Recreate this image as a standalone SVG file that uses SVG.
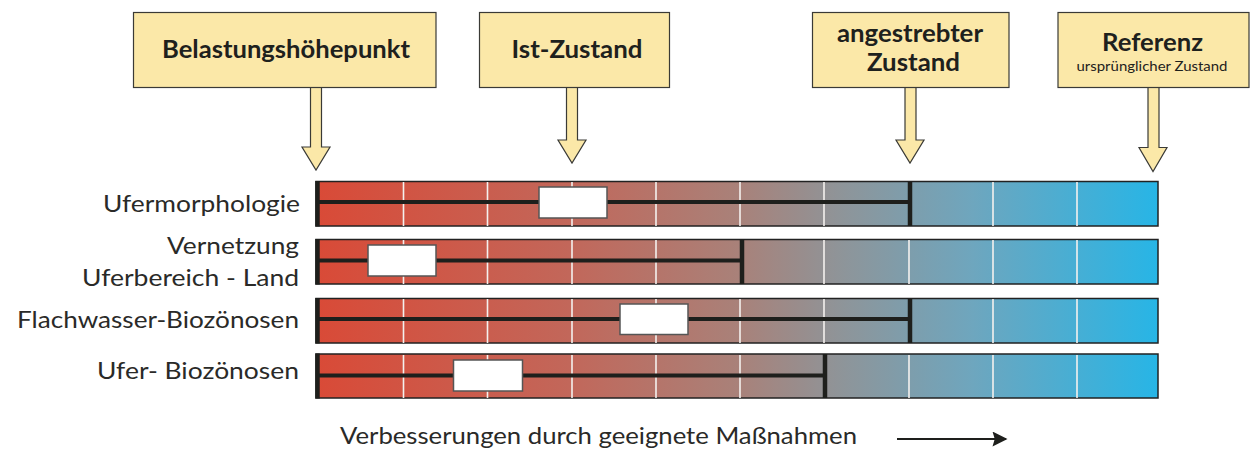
<svg xmlns="http://www.w3.org/2000/svg" width="1257" height="452" viewBox="0 0 1257 452">
<style>
.box{fill:#FBE8A8;stroke:#3a3a36;stroke-width:1.2}
.title{font-family:Lato,"Open Sans",sans-serif;font-weight:bold;font-size:24px;fill:#1e211d;text-anchor:middle}
.sub{font-family:Lato,"Open Sans",sans-serif;font-size:13px;fill:#1e211d;text-anchor:middle}
.lbl{font-family:Lato,"Open Sans",sans-serif;font-size:23px;fill:#2a2a28;text-anchor:end}
.bar{fill:url(#g);stroke:#222;stroke-width:1.5}
.div{stroke:#f4f0ee;stroke-width:1.6}
.mid{stroke:#1e1f1c;stroke-width:4}
.end{stroke:#1e1f1c;stroke-width:4.5}
.val{fill:#fff;stroke:#555;stroke-width:1.5}
</style>
<defs>
<linearGradient id="g" gradientUnits="userSpaceOnUse" x1="316" y1="0" x2="1158" y2="0">
<stop offset="0" stop-color="#D94A37"/>
<stop offset="0.3" stop-color="#C2675A"/>
<stop offset="0.5" stop-color="#A98179"/>
<stop offset="0.62" stop-color="#8F9498"/>
<stop offset="0.78" stop-color="#6EA6BE"/>
<stop offset="1" stop-color="#27B5E6"/>
</linearGradient>
<marker id="ah" viewBox="0 0 10 10" refX="9" refY="5" markerWidth="17" markerHeight="15" markerUnits="userSpaceOnUse" orient="auto"><path d="M0,0 L10,5 L0,10 L1.5,5 z" fill="#1e1f1c"/></marker>
</defs>

<g id="callout-belastung">
<polygon class="box" points="310.5,87 310.5,147 302,147 316,170 330,147 321.5,147 321.5,87"/>
<rect class="box" x="133.5" y="12.5" width="302.5" height="75"/>
<text class="title" x="286" y="58" textLength="248" lengthAdjust="spacingAndGlyphs">Belastungshöhepunkt</text>
</g>
<g id="callout-ist">
<polygon class="box" points="566.5,87 566.5,140 558,140 572,163 586,140 577.5,140 577.5,87"/>
<rect class="box" x="479.5" y="12.5" width="190" height="75"/>
<text class="title" x="577" y="58" textLength="131" lengthAdjust="spacingAndGlyphs">Ist-Zustand</text>
</g>
<g id="callout-angestrebt">
<polygon class="box" points="905,87 905,140 896,140 910,163 924,140 916,140 916,87"/>
<rect class="box" x="812.5" y="12.5" width="196.5" height="75"/>
<text class="title" x="910" y="42" textLength="146" lengthAdjust="spacingAndGlyphs">angestrebter</text>
<text class="title" x="913.5" y="71" textLength="93" lengthAdjust="spacingAndGlyphs">Zustand</text>
</g>
<g id="callout-referenz">
<polygon class="box" points="1148,87 1148,147.5 1139,147.5 1153,171.5 1167,147.5 1159,147.5 1159,87"/>
<rect class="box" x="1058" y="12.5" width="191" height="75"/>
<text class="title" x="1152.5" y="51" textLength="101" lengthAdjust="spacingAndGlyphs">Referenz</text>
<text class="sub" x="1152" y="71" textLength="151" lengthAdjust="spacingAndGlyphs">ursprünglicher Zustand</text>
</g>

<g id="row-ufermorphologie">
<text class="lbl" x="300" y="212" textLength="197" lengthAdjust="spacingAndGlyphs">Ufermorphologie</text>
<rect class="bar" x="316" y="181.5" width="842" height="44.5"/>
<path class="div" d="M403.5,182V226M487.5,182V226M572,182V226M656,182V226M740,182V226M824,182V226M993,182V226M1077,182V226"/>
<line class="mid" x1="318" y1="202" x2="910" y2="202"/>
<line class="end" x1="910" y1="181.5" x2="910" y2="226"/>
<line class="end" x1="317.5" y1="181" x2="317.5" y2="226.5"/>
<rect class="val" x="539" y="187" width="68" height="31"/>
</g>
<g id="row-vernetzung">
<text class="lbl" x="299" y="254" textLength="132" lengthAdjust="spacingAndGlyphs">Vernetzung</text>
<text class="lbl" x="299" y="286" textLength="217" lengthAdjust="spacingAndGlyphs">Uferbereich - Land</text>
<rect class="bar" x="316" y="239.5" width="842" height="44.5"/>
<path class="div" d="M403.5,240V284M487.5,240V284M572,240V284M656,240V284M824,240V284M909,240V284M993,240V284M1077,240V284"/>
<line class="mid" x1="318" y1="260.5" x2="742" y2="260.5"/>
<line class="end" x1="742" y1="239.5" x2="742" y2="284"/>
<line class="end" x1="317.5" y1="239" x2="317.5" y2="284.5"/>
<rect class="val" x="368" y="245" width="68" height="31"/>
</g>
<g id="row-flachwasser">
<text class="lbl" x="299" y="328" textLength="282" lengthAdjust="spacingAndGlyphs">Flachwasser-Biozönosen</text>
<rect class="bar" x="316" y="298.5" width="842" height="44.5"/>
<path class="div" d="M403.5,299V343M487.5,299V343M572,299V343M656,299V343M740,299V343M824,299V343M993,299V343M1077,299V343"/>
<line class="mid" x1="318" y1="319" x2="910" y2="319"/>
<line class="end" x1="910" y1="298.5" x2="910" y2="343"/>
<line class="end" x1="317.5" y1="298" x2="317.5" y2="343.5"/>
<rect class="val" x="620" y="304" width="68" height="30.5"/>
</g>
<g id="row-ufer-biozoenosen">
<text class="lbl" x="299" y="379" textLength="202" lengthAdjust="spacingAndGlyphs">Ufer- Biozönosen</text>
<rect class="bar" x="316" y="354" width="842" height="44"/>
<path class="div" d="M403.5,355V398M487.5,355V398M572,355V398M656,355V398M740,355V398M909,355V398M993,355V398M1077,355V398"/>
<line class="mid" x1="318" y1="375.5" x2="825" y2="375.5"/>
<line class="end" x1="825" y1="354" x2="825" y2="398"/>
<line class="end" x1="317.5" y1="353.5" x2="317.5" y2="398.5"/>
<rect class="val" x="453.5" y="360" width="69" height="31"/>
</g>

<g id="connectors">
<text class="lbl" x="340" y="444" style="text-anchor:start" textLength="517" lengthAdjust="spacingAndGlyphs">Verbesserungen durch geeignete Maßnahmen</text>
<line x1="897" y1="439" x2="1006" y2="439" stroke="#1e1f1c" stroke-width="2" marker-end="url(#ah)"/>
</g>
</svg>
